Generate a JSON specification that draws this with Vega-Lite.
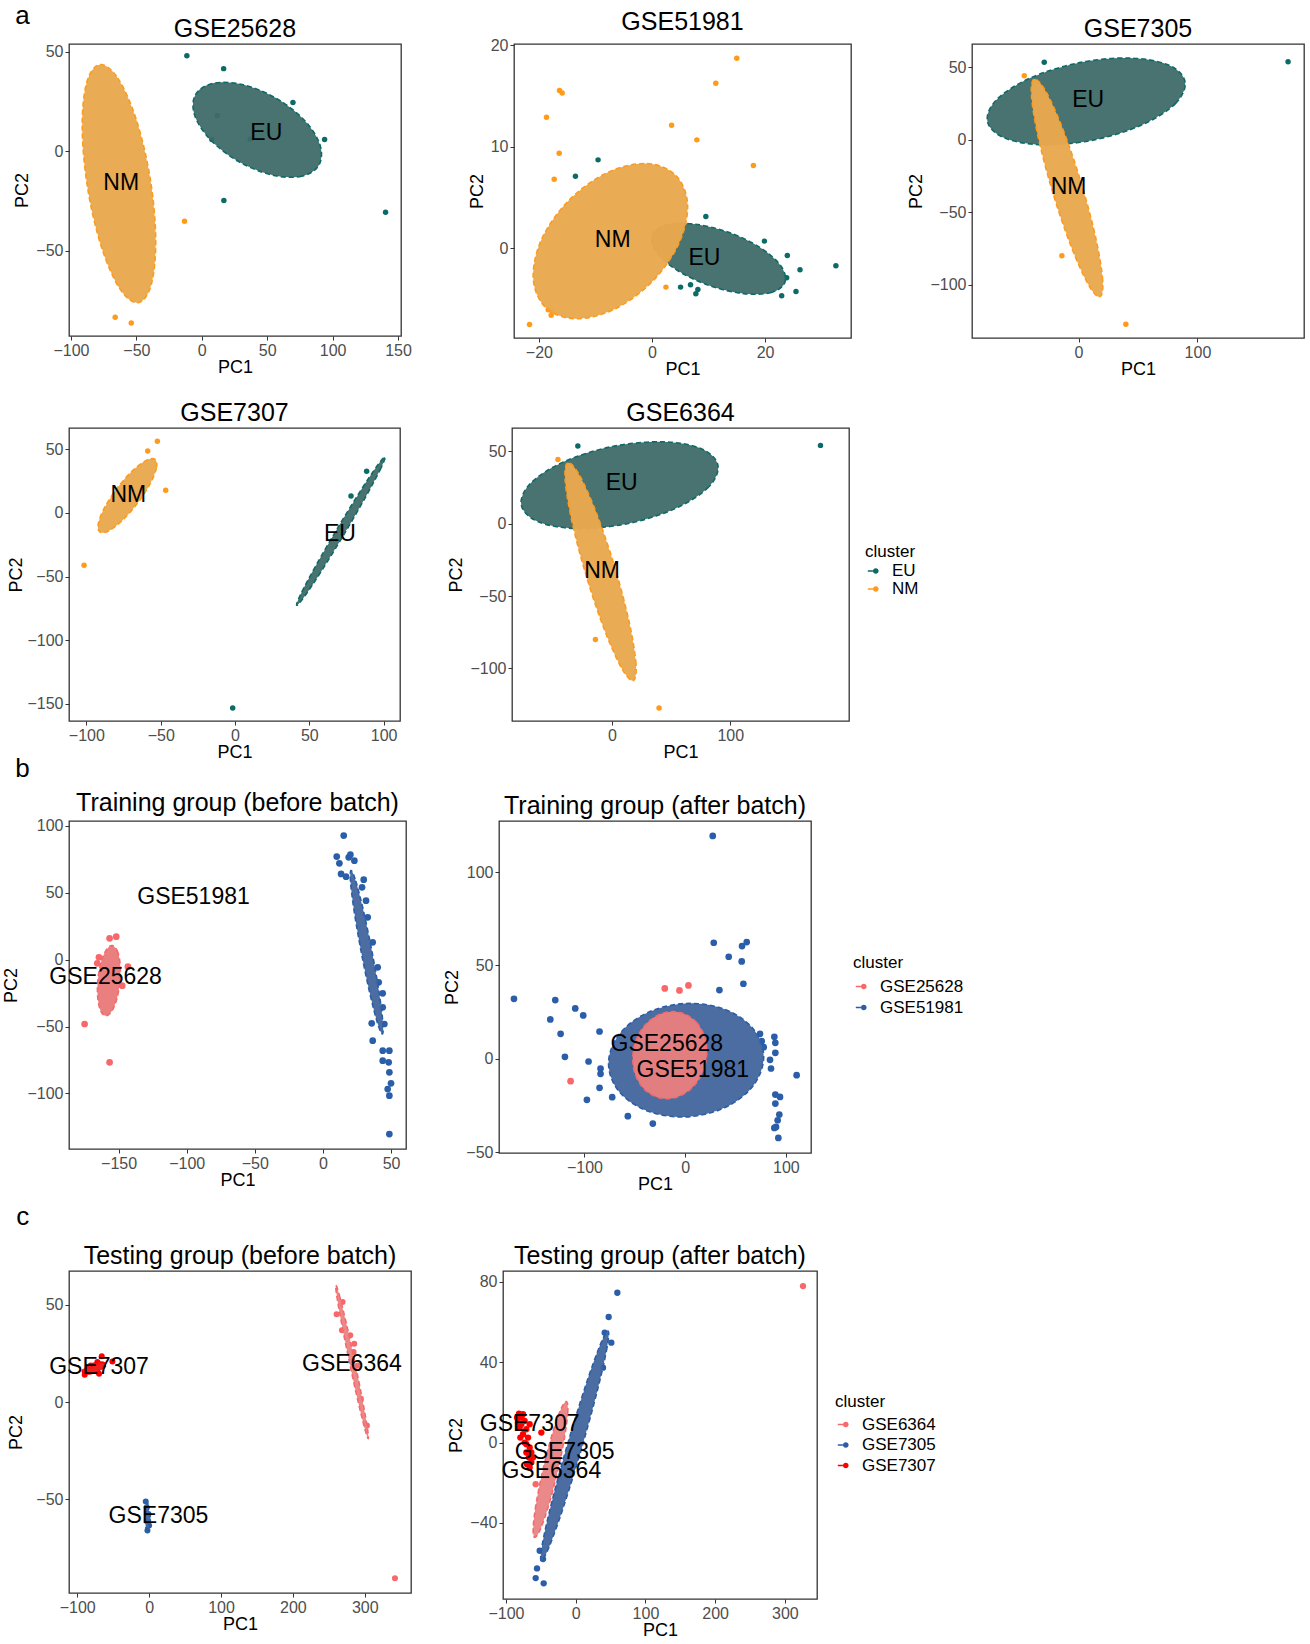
{
"$schema":"https://vega.github.io/schema/vega-lite/v6.json",
"background":"white",
"padding":{"left":2,"top":3,"right":0,"bottom":0},
"config":{
 "font":"Liberation Sans",
 "view":{"stroke":"#333333","strokeWidth":1.3},
 "axis":{"grid":false,"domain":false,"tickColor":"#333333","tickSize":4,"labelFontSize":16,"labelColor":"#4d4d4d","labelPadding":2,"titleFontSize":18,"titleFontWeight":"normal","titleColor":"#000000","titlePadding":4},
 "axisX":{"titlePadding":0},
 "title":{"fontSize":25,"fontWeight":"normal","offset":2,"frame":"group","color":"#000000"},
 "legend":{"titleFontWeight":"normal","titleFontSize":17,"labelFontSize":17,"titleColor":"#000000","labelColor":"#000000","padding":0,"symbolStrokeWidth":0,"labelOffset":10,
   "symbolType":"M-1,-0.13L-0.1,-0.13L-0.1,0.13L-1,0.13Z M0.9,0A0.5,0.5,0,1,1,-0.1,0A0.5,0.5,0,1,1,0.9,0Z","symbolSize":130}
},
"datasets":{
 "g25628":[
  {"k":"p","c":"EU","x":-11.4,"y":48.1},{"k":"p","c":"EU","x":16.7,"y":41.6},{"k":"p","c":"EU","x":69.7,"y":24.6},{"k":"p","c":"EU","x":11.8,"y":18.0},{"k":"p","c":"EU","x":7.7,"y":5.9},{"k":"p","c":"EU","x":37.0,"y":6.0},{"k":"p","c":"EU","x":93.9,"y":5.9},{"k":"p","c":"EU","x":16.9,"y":-24.8},{"k":"p","c":"EU","x":140.5,"y":-30.7},
  {"k":"p","c":"NM","x":-13.2,"y":-35.2},{"k":"p","c":"NM","x":-66.2,"y":-83.6},{"k":"p","c":"NM","x":-53.9,"y":-86.4},
  {"k":"e","c":"EU","o":0,"x":89.6,"y":-6.9},{"k":"e","c":"EU","o":1,"x":76.33,"y":-12.58},{"k":"e","c":"EU","o":2,"x":53.96,"y":-11.99},{"k":"e","c":"EU","o":3,"x":28.5,"y":-5.3},{"k":"e","c":"EU","o":4,"x":6.76,"y":5.71},{"k":"e","c":"EU","o":5,"x":-5.43,"y":18.08},{"k":"e","c":"EU","o":6,"x":-4.8,"y":28.5},{"k":"e","c":"EU","o":7,"x":8.47,"y":34.18},{"k":"e","c":"EU","o":8,"x":30.84,"y":33.59},{"k":"e","c":"EU","o":9,"x":56.3,"y":26.9},{"k":"e","c":"EU","o":10,"x":78.04,"y":15.89},{"k":"e","c":"EU","o":11,"x":90.23,"y":3.52},
  {"k":"e","c":"NM","o":0,"x":-78.1,"y":43.6},{"k":"e","c":"NM","o":1,"x":-64.17,"y":36.82},{"k":"e","c":"NM","o":2,"x":-50.0,"y":15.82},{"k":"e","c":"NM","o":3,"x":-39.4,"y":-13.8},{"k":"e","c":"NM","o":4,"x":-35.2,"y":-44.08},{"k":"e","c":"NM","o":5,"x":-38.53,"y":-66.92},{"k":"e","c":"NM","o":6,"x":-48.5,"y":-76.2},{"k":"e","c":"NM","o":7,"x":-62.43,"y":-69.42},{"k":"e","c":"NM","o":8,"x":-76.6,"y":-48.42},{"k":"e","c":"NM","o":9,"x":-87.2,"y":-18.8},{"k":"e","c":"NM","o":10,"x":-91.4,"y":11.48},{"k":"e","c":"NM","o":11,"x":-88.07,"y":34.32},
  {"k":"l","c":"NM","x":-61.6,"y":-16.2},{"k":"l","c":"EU","x":49.3,"y":9.1}
 ],
 "g51981":[
  {"k":"p","c":"NM","x":15.0,"y":18.69},{"k":"p","c":"NM","x":11.29,"y":16.23},{"k":"p","c":"NM","x":-16.35,"y":15.51},{"k":"p","c":"NM","x":-15.88,"y":15.28},{"k":"p","c":"NM","x":-18.65,"y":12.89},{"k":"p","c":"NM","x":3.47,"y":12.1},{"k":"p","c":"NM","x":7.94,"y":10.66},{"k":"p","c":"NM","x":-16.41,"y":9.34},{"k":"p","c":"NM","x":-17.29,"y":6.79},{"k":"p","c":"NM","x":17.94,"y":8.13},{"k":"p","c":"NM","x":2.47,"y":-3.84},{"k":"p","c":"NM","x":-18.35,"y":-6.07},{"k":"p","c":"NM","x":-17.65,"y":-6.23},{"k":"p","c":"NM","x":-17.82,"y":-6.62},{"k":"p","c":"NM","x":-21.65,"y":-7.51},
  {"k":"p","c":"EU","x":-9.53,"y":8.69},{"k":"p","c":"EU","x":-13.53,"y":7.08},{"k":"p","c":"EU","x":9.53,"y":3.11},{"k":"p","c":"EU","x":19.88,"y":0.69},{"k":"p","c":"EU","x":23.94,"y":-0.72},{"k":"p","c":"EU","x":26.18,"y":-2.13},{"k":"p","c":"EU","x":32.53,"y":-1.74},{"k":"p","c":"EU","x":23.82,"y":-2.92},{"k":"p","c":"EU","x":25.47,"y":-4.26},{"k":"p","c":"EU","x":22.94,"y":-4.69},{"k":"p","c":"EU","x":5.06,"y":-3.84},{"k":"p","c":"EU","x":6.82,"y":-3.61},{"k":"p","c":"EU","x":8.12,"y":-4.07},{"k":"p","c":"EU","x":7.76,"y":-4.49},
  {"k":"e","c":"EU","o":0,"x":23.52,"y":-3.35},{"k":"e","c":"EU","o":1,"x":21.12,"y":-4.36},{"k":"e","c":"EU","o":2,"x":16.21,"y":-4.48},{"k":"e","c":"EU","o":3,"x":10.11,"y":-3.68},{"k":"e","c":"EU","o":4,"x":4.45,"y":-2.18},{"k":"e","c":"EU","o":5,"x":0.76,"y":-0.38},{"k":"e","c":"EU","o":6,"x":0.0,"y":1.25},{"k":"e","c":"EU","o":7,"x":2.41,"y":2.26},{"k":"e","c":"EU","o":8,"x":7.31,"y":2.38},{"k":"e","c":"EU","o":9,"x":13.41,"y":1.58},{"k":"e","c":"EU","o":10,"x":19.07,"y":0.08},{"k":"e","c":"EU","o":11,"x":22.77,"y":-1.73},
  {"k":"e","c":"NM","o":0,"x":4.18,"y":7.18},{"k":"e","c":"NM","o":1,"x":6.3,"y":4.3},{"k":"e","c":"NM","o":2,"x":4.76,"y":0.45},{"k":"e","c":"NM","o":3,"x":-0.03,"y":-3.34},{"k":"e","c":"NM","o":4,"x":-6.78,"y":-6.05},{"k":"e","c":"NM","o":5,"x":-13.68,"y":-6.95},{"k":"e","c":"NM","o":6,"x":-18.88,"y":-5.8},{"k":"e","c":"NM","o":7,"x":-21.0,"y":-2.92},{"k":"e","c":"NM","o":8,"x":-19.46,"y":0.94},{"k":"e","c":"NM","o":9,"x":-14.67,"y":4.72},{"k":"e","c":"NM","o":10,"x":-7.93,"y":7.43},{"k":"e","c":"NM","o":11,"x":-1.03,"y":8.33},
  {"k":"l","c":"NM","x":-6.94,"y":0.82},{"k":"l","c":"EU","x":9.29,"y":-0.95}
 ],
 "g7305":[
  {"k":"p","c":"EU","x":-28.85,"y":53.54},{"k":"p","c":"EU","x":176.2,"y":54.0},
  {"k":"p","c":"NM","x":-45.66,"y":44.31},{"k":"p","c":"NM","x":-14.0,"y":-80.08},{"k":"p","c":"NM","x":39.78,"y":-127.4},
  {"k":"e","c":"EU","o":0,"x":89.49,"y":40.39},{"k":"e","c":"EU","o":1,"x":81.63,"y":25.22},{"k":"e","c":"EU","o":2,"x":53.62,"y":10.43},{"k":"e","c":"EU","o":3,"x":12.97,"y":-0.07},{"k":"e","c":"EU","o":4,"x":-29.44,"y":-3.43},{"k":"e","c":"EU","o":5,"x":-62.21,"y":1.24},{"k":"e","c":"EU","o":6,"x":-76.61,"y":12.69},{"k":"e","c":"EU","o":7,"x":-68.75,"y":27.86},{"k":"e","c":"EU","o":8,"x":-40.74,"y":42.65},{"k":"e","c":"EU","o":9,"x":-0.09,"y":53.15},{"k":"e","c":"EU","o":10,"x":42.32,"y":56.51},{"k":"e","c":"EU","o":11,"x":75.09,"y":51.84},
  {"k":"e","c":"NM","o":0,"x":17.93,"y":-108.47},{"k":"e","c":"NM","o":1,"x":20.27,"y":-96.89},{"k":"e","c":"NM","o":2,"x":14.59,"y":-68.25},{"k":"e","c":"NM","o":3,"x":2.41,"y":-30.23},{"k":"e","c":"NM","o":4,"x":-13.01,"y":6.99},{"k":"e","c":"NM","o":5,"x":-27.51,"y":33.43},{"k":"e","c":"NM","o":6,"x":-37.25,"y":42.01},{"k":"e","c":"NM","o":7,"x":-39.59,"y":30.43},{"k":"e","c":"NM","o":8,"x":-33.91,"y":1.79},{"k":"e","c":"NM","o":9,"x":-21.73,"y":-36.23},{"k":"e","c":"NM","o":10,"x":-6.31,"y":-73.45},{"k":"e","c":"NM","o":11,"x":8.19,"y":-99.89},
  {"k":"l","c":"EU","x":8.12,"y":27.69},{"k":"l","c":"NM","x":-8.4,"y":-32.77}
 ],
 "g7307":[
  {"k":"p","c":"NM","x":-52.24,"y":56.28},{"k":"p","c":"NM","x":-58.74,"y":48.69},{"k":"p","c":"NM","x":-46.64,"y":17.8},{"k":"p","c":"NM","x":-101.57,"y":-41.1},
  {"k":"p","c":"EU","x":88.57,"y":32.72},{"k":"p","c":"EU","x":78.03,"y":13.35},{"k":"p","c":"EU","x":-1.57,"y":-153.1},
  {"k":"e","c":"NM","o":0,"x":-53.81,"y":42.14},{"k":"e","c":"NM","o":1,"x":-52.91,"y":35.31},{"k":"e","c":"NM","o":2,"x":-57.25,"y":22.67},{"k":"e","c":"NM","o":3,"x":-65.65,"y":7.59},{"k":"e","c":"NM","o":4,"x":-75.87,"y":-5.87},{"k":"e","c":"NM","o":5,"x":-85.15,"y":-14.11},{"k":"e","c":"NM","o":6,"x":-91.03,"y":-14.92},{"k":"e","c":"NM","o":7,"x":-91.93,"y":-8.09},{"k":"e","c":"NM","o":8,"x":-87.59,"y":4.55},{"k":"e","c":"NM","o":9,"x":-79.19,"y":19.63},{"k":"e","c":"NM","o":10,"x":-68.97,"y":33.09},{"k":"e","c":"NM","o":11,"x":-59.69,"y":41.33},
  {"k":"e","c":"EU","o":0,"x":100.9,"y":43.98},{"k":"e","c":"EU","o":1,"x":98.18,"y":35.29},{"k":"e","c":"EU","o":2,"x":88.22,"y":13.34},{"k":"e","c":"EU","o":3,"x":73.7,"y":-16.02},{"k":"e","c":"EU","o":4,"x":58.5,"y":-44.92},{"k":"e","c":"EU","o":5,"x":46.72,"y":-65.59},{"k":"e","c":"EU","o":6,"x":41.48,"y":-72.52},{"k":"e","c":"EU","o":7,"x":44.2,"y":-63.83},{"k":"e","c":"EU","o":8,"x":54.16,"y":-41.88},{"k":"e","c":"EU","o":9,"x":68.68,"y":-12.52},{"k":"e","c":"EU","o":10,"x":83.88,"y":16.38},{"k":"e","c":"EU","o":11,"x":95.66,"y":37.05},
  {"k":"l","c":"NM","x":-71.75,"y":13.87},{"k":"l","c":"EU","x":70.63,"y":-16.23}
 ],
 "trainBefore":[
  {"k":"p","c":"GSE25628","x":-156.6,"y":15.96},{"k":"p","c":"GSE25628","x":-151.71,"y":17.21},{"k":"p","c":"GSE25628","x":-164.43,"y":1.75},{"k":"p","c":"GSE25628","x":-165.65,"y":-2.74},{"k":"p","c":"GSE25628","x":-143.15,"y":-5.24},{"k":"p","c":"GSE25628","x":-147.31,"y":-19.45},{"k":"p","c":"GSE25628","x":-174.94,"y":-48.13},{"k":"p","c":"GSE25628","x":-156.6,"y":-76.81},
  {"k":"p","c":"GSE51981","x":15.28,"y":92.77},{"k":"p","c":"GSE51981","x":10.15,"y":77.06},{"k":"p","c":"GSE51981","x":12.1,"y":72.07},{"k":"p","c":"GSE51981","x":18.95,"y":76.56},{"k":"p","c":"GSE51981","x":13.33,"y":64.09},{"k":"p","c":"GSE51981","x":17.0,"y":62.09},{"k":"p","c":"GSE51981","x":20.17,"y":78.55},{"k":"p","c":"GSE51981","x":23.11,"y":74.06},{"k":"p","c":"GSE51981","x":29.95,"y":59.85},{"k":"p","c":"GSE51981","x":28.73,"y":54.11},{"k":"p","c":"GSE51981","x":31.66,"y":44.14},{"k":"p","c":"GSE51981","x":32.89,"y":31.67},{"k":"p","c":"GSE51981","x":36.55,"y":12.97},{"k":"p","c":"GSE51981","x":40.22,"y":-5.74},{"k":"p","c":"GSE51981","x":40.95,"y":-16.96},{"k":"p","c":"GSE51981","x":43.89,"y":-25.19},{"k":"p","c":"GSE51981","x":43.89,"y":-35.66},{"k":"p","c":"GSE51981","x":35.82,"y":-47.63},{"k":"p","c":"GSE51981","x":36.55,"y":-60.6},{"k":"p","c":"GSE51981","x":45.11,"y":-48.13},{"k":"p","c":"GSE51981","x":43.89,"y":-68.08},{"k":"p","c":"GSE51981","x":48.78,"y":-68.08},{"k":"p","c":"GSE51981","x":43.89,"y":-75.56},{"k":"p","c":"GSE51981","x":48.29,"y":-76.81},{"k":"p","c":"GSE51981","x":48.78,"y":-84.29},{"k":"p","c":"GSE51981","x":50.0,"y":-92.52},{"k":"p","c":"GSE51981","x":47.56,"y":-96.76},{"k":"p","c":"GSE51981","x":48.78,"y":-101.75},{"k":"p","c":"GSE51981","x":48.78,"y":-130.42},
  {"k":"e","c":"GSE25628","o":0,"x":-154.66,"y":10.47},{"k":"e","c":"GSE25628","o":1,"x":-150.95,"y":6.58},{"k":"e","c":"GSE25628","o":2,"x":-148.89,"y":-3.27},{"k":"e","c":"GSE25628","o":3,"x":-149.03,"y":-16.46},{"k":"e","c":"GSE25628","o":4,"x":-151.33,"y":-29.45},{"k":"e","c":"GSE25628","o":5,"x":-155.17,"y":-38.76},{"k":"e","c":"GSE25628","o":6,"x":-159.54,"y":-41.89},{"k":"e","c":"GSE25628","o":7,"x":-163.25,"y":-38.0},{"k":"e","c":"GSE25628","o":8,"x":-165.31,"y":-28.15},{"k":"e","c":"GSE25628","o":9,"x":-165.17,"y":-14.96},{"k":"e","c":"GSE25628","o":10,"x":-162.87,"y":-1.97},{"k":"e","c":"GSE25628","o":11,"x":-159.03,"y":7.34},
  {"k":"e","c":"GSE51981","o":0,"x":20.66,"y":66.59},{"k":"e","c":"GSE51981","o":1,"x":24.12,"y":58.78},{"k":"e","c":"GSE51981","o":2,"x":29.73,"y":36.69},{"k":"e","c":"GSE51981","o":3,"x":35.99,"y":6.24},{"k":"e","c":"GSE51981","o":4,"x":41.23,"y":-24.41},{"k":"e","c":"GSE51981","o":5,"x":44.02,"y":-47.05},{"k":"e","c":"GSE51981","o":6,"x":43.64,"y":-55.61},{"k":"e","c":"GSE51981","o":7,"x":40.18,"y":-47.8},{"k":"e","c":"GSE51981","o":8,"x":34.57,"y":-25.71},{"k":"e","c":"GSE51981","o":9,"x":28.31,"y":4.74},{"k":"e","c":"GSE51981","o":10,"x":23.07,"y":35.39},{"k":"e","c":"GSE51981","o":11,"x":20.28,"y":58.03},
  {"k":"l","c":"GSE51981","x":-94.99,"y":47.13},{"k":"l","c":"GSE25628","x":-159.54,"y":-13.22}
 ],
 "trainAfter":[
  {"k":"p","c":"GSE51981","x":27.44,"y":119.29},{"k":"p","c":"GSE51981","x":-169.92,"y":32.14},{"k":"p","c":"GSE51981","x":-128.93,"y":31.43},{"k":"p","c":"GSE51981","x":-109.09,"y":26.96},{"k":"p","c":"GSE51981","x":-101.16,"y":23.21},{"k":"p","c":"GSE51981","x":-133.88,"y":21.07},{"k":"p","c":"GSE51981","x":-123.64,"y":13.39},{"k":"p","c":"GSE51981","x":-84.96,"y":14.64},{"k":"p","c":"GSE51981","x":-119.34,"y":1.07},{"k":"p","c":"GSE51981","x":-95.87,"y":-1.43},{"k":"p","c":"GSE51981","x":-83.97,"y":-5.18},{"k":"p","c":"GSE51981","x":-83.97,"y":-8.04},{"k":"p","c":"GSE51981","x":-84.96,"y":-15.54},{"k":"p","c":"GSE51981","x":-97.52,"y":-21.96},{"k":"p","c":"GSE51981","x":-72.4,"y":-20.54},{"k":"p","c":"GSE51981","x":-56.86,"y":-30.71},{"k":"p","c":"GSE51981","x":-32.07,"y":-34.64},{"k":"p","c":"GSE51981","x":28.43,"y":62.14},{"k":"p","c":"GSE51981","x":56.53,"y":60.36},{"k":"p","c":"GSE51981","x":43.31,"y":54.64},{"k":"p","c":"GSE51981","x":56.2,"y":52.14},{"k":"p","c":"GSE51981","x":34.05,"y":36.79},{"k":"p","c":"GSE51981","x":57.85,"y":40.18},{"k":"p","c":"GSE51981","x":61.16,"y":62.5},{"k":"p","c":"GSE51981","x":74.38,"y":13.39},{"k":"p","c":"GSE51981","x":76.03,"y":9.46},{"k":"p","c":"GSE51981","x":78.02,"y":6.25},{"k":"p","c":"GSE51981","x":88.6,"y":11.79},{"k":"p","c":"GSE51981","x":89.59,"y":8.57},{"k":"p","c":"GSE51981","x":89.59,"y":3.21},{"k":"p","c":"GSE51981","x":84.3,"y":-0.54},{"k":"p","c":"GSE51981","x":85.29,"y":-5.18},{"k":"p","c":"GSE51981","x":110.74,"y":-8.75},{"k":"p","c":"GSE51981","x":89.59,"y":-19.11},{"k":"p","c":"GSE51981","x":94.21,"y":-20.36},{"k":"p","c":"GSE51981","x":89.59,"y":-23.93},{"k":"p","c":"GSE51981","x":93.55,"y":-29.82},{"k":"p","c":"GSE51981","x":91.9,"y":-32.86},{"k":"p","c":"GSE51981","x":90.25,"y":-36.43},{"k":"p","c":"GSE51981","x":88.6,"y":-36.96},{"k":"p","c":"GSE51981","x":92.56,"y":-42.32},
  {"k":"p","c":"GSE25628","x":-20.17,"y":37.68},{"k":"p","c":"GSE25628","x":-5.62,"y":36.61},{"k":"p","c":"GSE25628","x":3.31,"y":39.29},{"k":"p","c":"GSE25628","x":-113.72,"y":-11.96},
  {"k":"e","c":"GSE51981","o":0,"x":78.01,"y":1.08},{"k":"e","c":"GSE51981","o":1,"x":67.69,"y":-14.34},{"k":"e","c":"GSE51981","o":2,"x":39.5,"y":-26.1},{"k":"e","c":"GSE51981","o":3,"x":0.99,"y":-31.07},{"k":"e","c":"GSE51981","o":4,"x":-37.52,"y":-27.9},{"k":"e","c":"GSE51981","o":5,"x":-65.71,"y":-17.44},{"k":"e","c":"GSE51981","o":6,"x":-76.03,"y":-2.5},{"k":"e","c":"GSE51981","o":7,"x":-65.71,"y":12.92},{"k":"e","c":"GSE51981","o":8,"x":-37.52,"y":24.68},{"k":"e","c":"GSE51981","o":9,"x":0.99,"y":29.65},{"k":"e","c":"GSE51981","o":10,"x":39.5,"y":26.48},{"k":"e","c":"GSE51981","o":11,"x":67.69,"y":16.02},
  {"k":"e","c":"GSE25628","o":0,"x":-4.96,"y":24.82},{"k":"e","c":"GSE25628","o":1,"x":11.36,"y":19.44},{"k":"e","c":"GSE25628","o":2,"x":20.55,"y":9.38},{"k":"e","c":"GSE25628","o":3,"x":20.16,"y":-2.67},{"k":"e","c":"GSE25628","o":4,"x":10.29,"y":-13.48},{"k":"e","c":"GSE25628","o":5,"x":-6.4,"y":-20.16},{"k":"e","c":"GSE25628","o":6,"x":-25.46,"y":-20.9},{"k":"e","c":"GSE25628","o":7,"x":-41.78,"y":-15.52},{"k":"e","c":"GSE25628","o":8,"x":-50.97,"y":-5.46},{"k":"e","c":"GSE25628","o":9,"x":-50.58,"y":6.59},{"k":"e","c":"GSE25628","o":10,"x":-40.71,"y":17.4},{"k":"e","c":"GSE25628","o":11,"x":-24.02,"y":24.08},
  {"k":"l","c":"GSE25628","x":-18.18,"y":8.04},{"k":"l","c":"GSE51981","x":7.6,"y":-5.71}
 ],
 "testBefore":[
  {"k":"p","c":"GSE6364","x":260.79,"y":45.19},{"k":"p","c":"GSE6364","x":268.21,"y":36.94},{"k":"p","c":"GSE6364","x":279.81,"y":34.36},{"k":"p","c":"GSE6364","x":285.38,"y":30.07},{"k":"p","c":"GSE6364","x":284.45,"y":25.77},{"k":"p","c":"GSE6364","x":290.02,"y":18.9},{"k":"p","c":"GSE6364","x":294.66,"y":1.72},{"k":"p","c":"GSE6364","x":303.02,"y":-12.03},{"k":"p","c":"GSE6364","x":342.0,"y":-90.72},{"k":"p","c":"GSE6364","x":269.14,"y":51.55},
  {"k":"p","c":"GSE7305","x":-4.64,"y":-51.2},{"k":"p","c":"GSE7305","x":-3.25,"y":-54.12},{"k":"p","c":"GSE7305","x":-0.93,"y":-57.56},{"k":"p","c":"GSE7305","x":-1.39,"y":-61.0},{"k":"p","c":"GSE7305","x":0.0,"y":-63.57},{"k":"p","c":"GSE7305","x":-2.32,"y":-66.15},
  {"k":"p","c":"GSE7307","x":-89.56,"y":14.09},{"k":"p","c":"GSE7307","x":-65.89,"y":23.54},{"k":"p","c":"GSE7307","x":-51.04,"y":20.96},{"k":"p","c":"GSE7307","x":-69.61,"y":14.6},{"k":"p","c":"GSE7307","x":-81.21,"y":18.9},{"k":"p","c":"GSE7307","x":-71.93,"y":20.62},
  {"k":"e","c":"GSE6364","o":0,"x":259.86,"y":60.14},{"k":"e","c":"GSE6364","o":1,"x":264.69,"y":54.98},{"k":"e","c":"GSE6364","o":2,"x":274.24,"y":40.62},{"k":"e","c":"GSE6364","o":3,"x":285.99,"y":20.9},{"k":"e","c":"GSE6364","o":4,"x":296.76,"y":1.1},{"k":"e","c":"GSE6364","o":5,"x":303.67,"y":-13.46},{"k":"e","c":"GSE6364","o":6,"x":304.88,"y":-18.9},{"k":"e","c":"GSE6364","o":7,"x":300.05,"y":-13.74},{"k":"e","c":"GSE6364","o":8,"x":290.5,"y":0.62},{"k":"e","c":"GSE6364","o":9,"x":278.75,"y":20.34},{"k":"e","c":"GSE6364","o":10,"x":267.98,"y":40.14},{"k":"e","c":"GSE6364","o":11,"x":261.07,"y":54.7},
  {"k":"e","c":"GSE7307","o":0,"x":-60.33,"y":18.9},{"k":"e","c":"GSE7307","o":1,"x":-61.58,"y":20.1},{"k":"e","c":"GSE7307","o":2,"x":-66.84,"y":20.6},{"k":"e","c":"GSE7307","o":3,"x":-74.71,"y":20.28},{"k":"e","c":"GSE7307","o":4,"x":-83.08,"y":19.22},{"k":"e","c":"GSE7307","o":5,"x":-89.7,"y":17.72},{"k":"e","c":"GSE7307","o":6,"x":-92.81,"y":16.16},{"k":"e","c":"GSE7307","o":7,"x":-91.56,"y":14.96},{"k":"e","c":"GSE7307","o":8,"x":-86.3,"y":14.46},{"k":"e","c":"GSE7307","o":9,"x":-78.43,"y":14.78},{"k":"e","c":"GSE7307","o":10,"x":-70.06,"y":15.84},{"k":"e","c":"GSE7307","o":11,"x":-63.44,"y":17.34},
  {"k":"e","c":"GSE7305","o":0,"x":-0.93,"y":-51.89},{"k":"e","c":"GSE7305","o":1,"x":-1.42,"y":-52.81},{"k":"e","c":"GSE7305","o":2,"x":-0.58,"y":-55.32},{"k":"e","c":"GSE7305","o":3,"x":1.39,"y":-58.76},{"k":"e","c":"GSE7305","o":4,"x":0.48,"y":-62.2},{"k":"e","c":"GSE7305","o":5,"x":-1.04,"y":-64.71},{"k":"e","c":"GSE7305","o":6,"x":-2.79,"y":-65.63},{"k":"e","c":"GSE7305","o":7,"x":-4.3,"y":-64.71},{"k":"e","c":"GSE7305","o":8,"x":-5.14,"y":-62.2},{"k":"e","c":"GSE7305","o":9,"x":-5.11,"y":-58.76},{"k":"e","c":"GSE7305","o":10,"x":-4.2,"y":-55.32},{"k":"e","c":"GSE7305","o":11,"x":-2.68,"y":-52.81},
  {"k":"l","c":"GSE7307","x":-69.61,"y":18.04},{"k":"l","c":"GSE6364","x":282.13,"y":19.76},{"k":"l","c":"GSE7305","x":12.99,"y":-58.76}
 ],
 "testAfter":[
  {"k":"p","c":"GSE7307","x":-81.24,"y":14.4},{"k":"p","c":"GSE7307","x":-77.9,"y":12.42},{"k":"p","c":"GSE7307","x":-82.68,"y":9.93},{"k":"p","c":"GSE7307","x":-73.12,"y":10.76},{"k":"p","c":"GSE7307","x":-80.29,"y":7.45},{"k":"p","c":"GSE7307","x":-70.73,"y":6.62},{"k":"p","c":"GSE7307","x":-75.51,"y":4.14},{"k":"p","c":"GSE7307","x":-68.34,"y":2.48},{"k":"p","c":"GSE7307","x":-73.12,"y":0.0},{"k":"p","c":"GSE7307","x":-65.95,"y":-2.48},{"k":"p","c":"GSE7307","x":-70.73,"y":-4.97},{"k":"p","c":"GSE7307","x":-66.91,"y":-7.45},{"k":"p","c":"GSE7307","x":-63.56,"y":-9.93},{"k":"p","c":"GSE7307","x":-65.95,"y":-12.42},{"k":"p","c":"GSE7307","x":-49.22,"y":4.97},{"k":"p","c":"GSE7307","x":-75.51,"y":14.07},{"k":"p","c":"GSE7307","x":-65.95,"y":9.11},{"k":"p","c":"GSE7307","x":-84.11,"y":12.42},{"k":"p","c":"GSE7307","x":-79.33,"y":2.48},{"k":"p","c":"GSE7307","x":-70.73,"y":-0.83},{"k":"p","c":"GSE7307","x":-77.9,"y":9.11},{"k":"p","c":"GSE7307","x":-61.17,"y":-7.45},{"k":"p","c":"GSE7307","x":-69.77,"y":-10.76},{"k":"p","c":"GSE7307","x":-63.56,"y":-4.97},
  {"k":"p","c":"GSE7305","x":59.74,"y":74.5},{"k":"p","c":"GSE7305","x":47.31,"y":62.42},{"k":"p","c":"GSE7305","x":51.14,"y":49.67},{"k":"p","c":"GSE7305","x":41.58,"y":54.64},{"k":"p","c":"GSE7305","x":39.19,"y":37.25},{"k":"p","c":"GSE7305","x":-46.83,"y":-57.95},{"k":"p","c":"GSE7305","x":-55.44,"y":-62.58},{"k":"p","c":"GSE7305","x":-57.35,"y":-67.38},{"k":"p","c":"GSE7305","x":-45.88,"y":-70.03},{"k":"p","c":"GSE7305","x":-51.61,"y":-53.81},
  {"k":"p","c":"GSE6364","x":325.93,"y":77.81},{"k":"p","c":"GSE6364","x":-57.35,"y":-20.7},
  {"k":"e","c":"GSE6364","o":0,"x":-13.38,"y":20.36},{"k":"e","c":"GSE6364","o":1,"x":-11.3,"y":15.41},{"k":"e","c":"GSE6364","o":2,"x":-15.87,"y":2.76},{"k":"e","c":"GSE6364","o":3,"x":-25.85,"y":-14.24},{"k":"e","c":"GSE6364","o":4,"x":-38.57,"y":-31.02},{"k":"e","c":"GSE6364","o":5,"x":-50.62,"y":-43.07},{"k":"e","c":"GSE6364","o":6,"x":-58.78,"y":-47.18},{"k":"e","c":"GSE6364","o":7,"x":-60.86,"y":-42.23},{"k":"e","c":"GSE6364","o":8,"x":-56.29,"y":-29.58},{"k":"e","c":"GSE6364","o":9,"x":-46.31,"y":-12.58},{"k":"e","c":"GSE6364","o":10,"x":-33.59,"y":4.2},{"k":"e","c":"GSE6364","o":11,"x":-21.54,"y":16.25},
  {"k":"e","c":"GSE7305","o":0,"x":46.36,"y":55.46},{"k":"e","c":"GSE7305","o":1,"x":45.0,"y":47.3},{"k":"e","c":"GSE7305","o":2,"x":31.2,"y":26.03},{"k":"e","c":"GSE7305","o":3,"x":8.65,"y":-2.67},{"k":"e","c":"GSE7305","o":4,"x":-16.6,"y":-31.09},{"k":"e","c":"GSE7305","o":5,"x":-37.78,"y":-51.64},{"k":"e","c":"GSE7305","o":6,"x":-49.22,"y":-58.78},{"k":"e","c":"GSE7305","o":7,"x":-47.86,"y":-50.62},{"k":"e","c":"GSE7305","o":8,"x":-34.06,"y":-29.35},{"k":"e","c":"GSE7305","o":9,"x":-11.51,"y":-0.65},{"k":"e","c":"GSE7305","o":10,"x":13.74,"y":27.77},{"k":"e","c":"GSE7305","o":11,"x":34.92,"y":48.32},
  {"k":"l","c":"GSE7307","x":-65.95,"y":9.11},{"k":"l","c":"GSE7305","x":-15.77,"y":-4.47},{"k":"l","c":"GSE6364","x":-34.89,"y":-14.07}
 ]
},
"resolve":{"scale":{"x":"independent","y":"independent","color":"independent"},"legend":{"color":"independent"}},
"spacing":21,
"vconcat":[
 {"title":{"text":"a","anchor":"start","fontSize":26,"offset":-20,"frame":"bounds","dx":2},
  "resolve":{"scale":{"x":"independent","y":"independent","color":"independent"},"legend":{"color":"independent"}},
  "spacing":55,
  "hconcat":[
   {"width":332,"height":292,"title":"GSE25628","data":{"name":"g25628"},
    "encoding":{"x":{"field":"x","type":"quantitative","scale":{"domain":[-101.5,152.3],"nice":false,"zero":false},"axis":{"title":"PC1","values":[-100,-50,0,50,100,150]}},
                "y":{"field":"y","type":"quantitative","scale":{"domain":[-93,54],"nice":false,"zero":false},"axis":{"title":"PC2","values":[-50,0,50]}}},
    "layer":[
     {"transform":[{"filter":"datum.k=='p'"}],"mark":{"type":"point","filled":true,"size":30,"opacity":1},"encoding":{"color":{"field":"c","type":"nominal","scale":{"domain":["EU","NM"],"range":["#0c6b67","#ff9a1a"]},"legend":null}}},
     {"transform":[{"filter":"datum.k=='e' && datum.c=='EU'"}],"mark":{"type":"line","interpolate":"cardinal-closed","fill":"#3e6b69","fillOpacity":0.95,"stroke":"#0c6b67","strokeWidth":1.6,"strokeDash":[5,3]},"encoding":{"order":{"field":"o","type":"quantitative"}}},
     {"transform":[{"filter":"datum.k=='e' && datum.c=='NM'"}],"mark":{"type":"line","interpolate":"cardinal-closed","fill":"#e9a84f","fillOpacity":0.97,"stroke":"#ff9a1a","strokeWidth":1.6,"strokeDash":[5,3]},"encoding":{"order":{"field":"o","type":"quantitative"}}},
     {"transform":[{"filter":"datum.k=='l'"}],"mark":{"type":"text","fontSize":23,"color":"#000000"},"encoding":{"text":{"field":"c","type":"nominal"}}}
    ]},
   {"width":337,"height":294,"title":"GSE51981","data":{"name":"g51981"},
    "encoding":{"x":{"field":"x","type":"quantitative","scale":{"domain":[-24.4,35.2],"nice":false,"zero":false},"axis":{"title":"PC1","values":[-20,0,20]}},
                "y":{"field":"y","type":"quantitative","scale":{"domain":[-8.85,20.1],"nice":false,"zero":false},"axis":{"title":"PC2","values":[0,10,20]}}},
    "layer":[
     {"transform":[{"filter":"datum.k=='p'"}],"mark":{"type":"point","filled":true,"size":30,"opacity":1},"encoding":{"color":{"field":"c","type":"nominal","scale":{"domain":["EU","NM"],"range":["#0c6b67","#ff9a1a"]},"legend":null}}},
     {"transform":[{"filter":"datum.k=='e' && datum.c=='EU'"}],"mark":{"type":"line","interpolate":"cardinal-closed","fill":"#3e6b69","fillOpacity":0.95,"stroke":"#0c6b67","strokeWidth":1.6,"strokeDash":[5,3]},"encoding":{"order":{"field":"o","type":"quantitative"}}},
     {"transform":[{"filter":"datum.k=='e' && datum.c=='NM'"}],"mark":{"type":"line","interpolate":"cardinal-closed","fill":"#e9a84f","fillOpacity":0.97,"stroke":"#ff9a1a","strokeWidth":1.6,"strokeDash":[5,3]},"encoding":{"order":{"field":"o","type":"quantitative"}}},
     {"transform":[{"filter":"datum.k=='l'"}],"mark":{"type":"text","fontSize":23,"color":"#000000"},"encoding":{"text":{"field":"c","type":"nominal"}}}
    ]},
   {"width":332,"height":294,"title":"GSE7305","data":{"name":"g7305"},
    "encoding":{"x":{"field":"x","type":"quantitative","scale":{"domain":[-89.6,189.6],"nice":false,"zero":false},"axis":{"title":"PC1","values":[0,100]}},
                "y":{"field":"y","type":"quantitative","scale":{"domain":[-136.9,66.2],"nice":false,"zero":false},"axis":{"title":"PC2","values":[-100,-50,0,50]}}},
    "layer":[
     {"transform":[{"filter":"datum.k=='p'"}],"mark":{"type":"point","filled":true,"size":30,"opacity":1},"encoding":{"color":{"field":"c","type":"nominal","scale":{"domain":["EU","NM"],"range":["#0c6b67","#ff9a1a"]},"legend":null}}},
     {"transform":[{"filter":"datum.k=='e' && datum.c=='EU'"}],"mark":{"type":"line","interpolate":"cardinal-closed","fill":"#3e6b69","fillOpacity":0.95,"stroke":"#0c6b67","strokeWidth":1.6,"strokeDash":[5,3]},"encoding":{"order":{"field":"o","type":"quantitative"}}},
     {"transform":[{"filter":"datum.k=='e' && datum.c=='NM'"}],"mark":{"type":"line","interpolate":"cardinal-closed","fill":"#e9a84f","fillOpacity":0.97,"stroke":"#ff9a1a","strokeWidth":1.6,"strokeDash":[5,3]},"encoding":{"order":{"field":"o","type":"quantitative"}}},
     {"transform":[{"filter":"datum.k=='l'"}],"mark":{"type":"text","fontSize":23,"color":"#000000"},"encoding":{"text":{"field":"c","type":"nominal"}}}
    ]}
  ]},
 {"resolve":{"scale":{"x":"independent","y":"independent","color":"independent"},"legend":{"color":"independent"}},
  "spacing":-6,
  "vconcat":[
   {"resolve":{"scale":{"x":"independent","y":"independent","color":"independent"},"legend":{"color":"independent"}},
    "spacing":46,
    "hconcat":[
     {"width":331,"height":293,"title":"GSE7307","data":{"name":"g7307"},
      "encoding":{"x":{"field":"x","type":"quantitative","scale":{"domain":[-111.7,111],"nice":false,"zero":false},"axis":{"title":"PC1","values":[-100,-50,0,50,100]}},
                  "y":{"field":"y","type":"quantitative","scale":{"domain":[-163.4,66.75],"nice":false,"zero":false},"axis":{"title":"PC2","values":[-150,-100,-50,0,50],"titlePadding":1}}},
      "layer":[
       {"transform":[{"filter":"datum.k=='p'"}],"mark":{"type":"point","filled":true,"size":30,"opacity":1},"encoding":{"color":{"field":"c","type":"nominal","scale":{"domain":["EU","NM"],"range":["#0c6b67","#ff9a1a"]},"legend":null}}},
       {"transform":[{"filter":"datum.k=='e' && datum.c=='EU'"}],"mark":{"type":"line","interpolate":"cardinal-closed","fill":"#3e6b69","fillOpacity":0.95,"stroke":"#0c6b67","strokeWidth":1.6,"strokeDash":[5,3]},"encoding":{"order":{"field":"o","type":"quantitative"}}},
       {"transform":[{"filter":"datum.k=='e' && datum.c=='NM'"}],"mark":{"type":"line","interpolate":"cardinal-closed","fill":"#e9a84f","fillOpacity":0.97,"stroke":"#ff9a1a","strokeWidth":1.6,"strokeDash":[5,3]},"encoding":{"order":{"field":"o","type":"quantitative"}}},
       {"transform":[{"filter":"datum.k=='l'"}],"mark":{"type":"text","fontSize":23,"color":"#000000"},"encoding":{"text":{"field":"c","type":"nominal"}}}
      ]},
     {"width":337,"height":293,"title":"GSE6364","data":{"name":"g7305"},
      "encoding":{"x":{"field":"x","type":"quantitative","scale":{"domain":[-84.5,200.3],"nice":false,"zero":false},"axis":{"title":"PC1","values":[0,100]}},
                  "y":{"field":"y","type":"quantitative","scale":{"domain":[-136.3,66],"nice":false,"zero":false},"axis":{"title":"PC2","values":[-100,-50,0,50]}}},
      "layer":[
       {"transform":[{"filter":"datum.k=='p'"}],"mark":{"type":"point","filled":true,"size":30,"opacity":1},"encoding":{"color":{"field":"c","type":"nominal","scale":{"domain":["EU","NM"],"range":["#0c6b67","#ff9a1a"]},"legend":{"title":"cluster","orient":"none","legendX":353,"legendY":116,"titlePadding":1.5,"rowPadding":0}}}},
       {"transform":[{"filter":"datum.k=='e' && datum.c=='EU'"}],"mark":{"type":"line","interpolate":"cardinal-closed","fill":"#3e6b69","fillOpacity":0.95,"stroke":"#0c6b67","strokeWidth":1.6,"strokeDash":[5,3]},"encoding":{"order":{"field":"o","type":"quantitative"}}},
       {"transform":[{"filter":"datum.k=='e' && datum.c=='NM'"}],"mark":{"type":"line","interpolate":"cardinal-closed","fill":"#e9a84f","fillOpacity":0.97,"stroke":"#ff9a1a","strokeWidth":1.6,"strokeDash":[5,3]},"encoding":{"order":{"field":"o","type":"quantitative"}}},
       {"transform":[{"filter":"datum.k=='l'"}],"mark":{"type":"text","fontSize":23,"color":"#000000"},"encoding":{"text":{"field":"c","type":"nominal"}}}
      ]}
    ]},
   {"resolve":{"scale":{"x":"independent","y":"independent","color":"independent"},"legend":{"color":"independent"}},
    "spacing":9,
    "vconcat":[
     {"title":{"text":"b","anchor":"start","fontSize":26,"offset":8,"frame":"bounds","dx":13},
      "resolve":{"scale":{"x":"independent","y":"independent","color":"independent"},"legend":{"color":"independent"}},
      "spacing":36,
      "hconcat":[
       {"width":337,"height":328,"title":"Training group (before batch)","data":{"name":"trainBefore"},
        "encoding":{"x":{"field":"x","type":"quantitative","scale":{"domain":[-186.4,61],"nice":false,"zero":false},"axis":{"title":"PC1","values":[-150,-100,-50,0,50]}},
                    "y":{"field":"y","type":"quantitative","scale":{"domain":[-141.6,103.7],"nice":false,"zero":false},"axis":{"title":"PC2","values":[-100,-50,0,50,100],"titlePadding":6}}},
        "layer":[
         {"transform":[{"filter":"datum.k=='p'"}],"mark":{"type":"point","filled":true,"size":45,"opacity":1},"encoding":{"color":{"field":"c","type":"nominal","scale":{"domain":["GSE25628","GSE51981"],"range":["#f8686a","#2a5ea8"]},"legend":null}}},
         {"transform":[{"filter":"datum.k=='e' && datum.c=='GSE25628'"}],"mark":{"type":"line","interpolate":"cardinal-closed","fill":"#e87b7b","fillOpacity":0.97,"stroke":"#f8686a","strokeWidth":1.6,"strokeDash":[5,3]},"encoding":{"order":{"field":"o","type":"quantitative"}}},
         {"transform":[{"filter":"datum.k=='e' && datum.c=='GSE51981'"}],"mark":{"type":"line","interpolate":"cardinal-closed","fill":"#45689e","fillOpacity":0.97,"stroke":"#2a5ea8","strokeWidth":1.6,"strokeDash":[5,3]},"encoding":{"order":{"field":"o","type":"quantitative"}}},
         {"transform":[{"filter":"datum.k=='l'"}],"mark":{"type":"text","fontSize":23,"color":"#000000"},"encoding":{"text":{"field":"c","type":"nominal"}}}
        ]},
       {"width":312,"height":332,"title":"Training group (after batch)","data":{"name":"trainAfter"},
        "encoding":{"x":{"field":"x","type":"quantitative","scale":{"domain":[-184.8,125],"nice":false,"zero":false},"axis":{"title":"PC1","values":[-100,0,100]}},
                    "y":{"field":"y","type":"quantitative","scale":{"domain":[-50.4,127.3],"nice":false,"zero":false},"axis":{"title":"PC2","values":[-50,0,50,100]}}},
        "layer":[
         {"transform":[{"filter":"datum.k=='p'"}],"mark":{"type":"point","filled":true,"size":45,"opacity":1},"encoding":{"color":{"field":"c","type":"nominal","scale":{"domain":["GSE25628","GSE51981"],"range":["#f8686a","#2a5ea8"]},"legend":{"title":"cluster","orient":"none","legendX":354,"legendY":134,"titlePadding":6,"rowPadding":3}}}},
         {"transform":[{"filter":"datum.k=='e' && datum.c=='GSE51981'"}],"mark":{"type":"line","interpolate":"cardinal-closed","fill":"#45689e","fillOpacity":0.97,"stroke":"#2a5ea8","strokeWidth":1.6,"strokeDash":[5,3]},"encoding":{"order":{"field":"o","type":"quantitative"}}},
         {"transform":[{"filter":"datum.k=='e' && datum.c=='GSE25628'"}],"mark":{"type":"line","interpolate":"cardinal-closed","fill":"#e87f7f","fillOpacity":0.97,"stroke":"#f8686a","strokeWidth":1.6,"strokeDash":[5,3]},"encoding":{"order":{"field":"o","type":"quantitative"}}},
         {"transform":[{"filter":"datum.k=='l'"}],"mark":{"type":"text","fontSize":23,"color":"#000000"},"encoding":{"text":{"field":"c","type":"nominal"}}}
        ]}
      ]},
     {"title":{"text":"c","anchor":"start","fontSize":26,"offset":13.7,"frame":"bounds","dx":9},
      "resolve":{"scale":{"x":"independent","y":"independent","color":"independent"},"legend":{"color":"independent"}},
      "spacing":35,
      "hconcat":[
       {"width":342,"height":322,"title":"Testing group (before batch)","data":{"name":"testBefore"},
        "encoding":{"x":{"field":"x","type":"quantitative","scale":{"domain":[-111.4,364.3],"nice":false,"zero":false},"axis":{"title":"PC1","values":[-100,0,100,200,300]}},
                    "y":{"field":"y","type":"quantitative","scale":{"domain":[-98.3,67.5],"nice":false,"zero":false},"axis":{"title":"PC2","values":[-50,0,50],"titlePadding":10}}},
        "layer":[
         {"transform":[{"filter":"datum.k=='p'"}],"mark":{"type":"point","filled":true,"size":36,"opacity":1},"encoding":{"color":{"field":"c","type":"nominal","scale":{"domain":["GSE6364","GSE7305","GSE7307"],"range":["#f8686a","#2a5ea8","#ff0000"]},"legend":null}}},
         {"transform":[{"filter":"datum.k=='e' && datum.c=='GSE6364'"}],"mark":{"type":"line","interpolate":"cardinal-closed","fill":"#e98585","fillOpacity":0.97,"stroke":"#f8686a","strokeWidth":1.6,"strokeDash":[5,3]},"encoding":{"order":{"field":"o","type":"quantitative"}}},
         {"transform":[{"filter":"datum.k=='e' && datum.c=='GSE7305'"}],"mark":{"type":"line","interpolate":"cardinal-closed","fill":"#45689e","fillOpacity":0.97,"stroke":"#2a5ea8","strokeWidth":1.6,"strokeDash":[5,3]},"encoding":{"order":{"field":"o","type":"quantitative"}}},
         {"transform":[{"filter":"datum.k=='e' && datum.c=='GSE7307'"}],"mark":{"type":"line","interpolate":"cardinal-closed","fill":"#f01818","fillOpacity":0.97,"stroke":"#ff0000","strokeWidth":1.6,"strokeDash":[5,3]},"encoding":{"order":{"field":"o","type":"quantitative"}}},
         {"transform":[{"filter":"datum.k=='l'"}],"mark":{"type":"text","fontSize":23,"color":"#000000"},"encoding":{"text":{"field":"c","type":"nominal"}}}
        ]},
       {"width":314,"height":328,"title":"Testing group (after batch)","data":{"name":"testAfter"},
        "encoding":{"x":{"field":"x","type":"quantitative","scale":{"domain":[-104.2,346],"nice":false,"zero":false},"axis":{"title":"PC1","values":[-100,0,100,200,300]}},
                    "y":{"field":"y","type":"quantitative","scale":{"domain":[-77.8,85.3],"nice":false,"zero":false},"axis":{"title":"PC2","values":[-40,0,40,80]}}},
        "layer":[
         {"transform":[{"filter":"datum.k=='p'"}],"mark":{"type":"point","filled":true,"size":40,"opacity":1},"encoding":{"color":{"field":"c","type":"nominal","scale":{"domain":["GSE6364","GSE7305","GSE7307"],"range":["#f8686a","#2a5ea8","#ff0000"]},"legend":{"title":"cluster","orient":"none","legendX":332,"legendY":123,"titlePadding":5,"rowPadding":2.5}}}},
         {"transform":[{"filter":"datum.k=='e' && datum.c=='GSE6364'"}],"mark":{"type":"line","interpolate":"cardinal-closed","fill":"#e98585","fillOpacity":0.97,"stroke":"#f8686a","strokeWidth":1.6,"strokeDash":[5,3]},"encoding":{"order":{"field":"o","type":"quantitative"}}},
         {"transform":[{"filter":"datum.k=='e' && datum.c=='GSE7305'"}],"mark":{"type":"line","interpolate":"cardinal-closed","fill":"#45689e","fillOpacity":0.97,"stroke":"#2a5ea8","strokeWidth":1.6,"strokeDash":[5,3]},"encoding":{"order":{"field":"o","type":"quantitative"}}},
         {"transform":[{"filter":"datum.k=='l'"}],"mark":{"type":"text","fontSize":23,"color":"#000000"},"encoding":{"text":{"field":"c","type":"nominal"}}}
        ]}
      ]}
    ]}
  ]}
]
}
